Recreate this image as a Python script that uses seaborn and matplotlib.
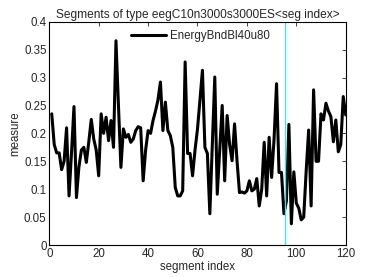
import numpy as np
import pandas as pd
import seaborn as sns
import matplotlib.pyplot as plt

# Values
seg_index = list(range(1, 121))
measure = [
    0.235, 0.18, 0.165, 0.165, 0.135, 0.15, 0.21, 0.088, 0.165, 0.248,
    0.085, 0.14, 0.17, 0.175, 0.148, 0.185, 0.225, 0.19, 0.17, 0.124,
    0.235, 0.2, 0.229, 0.187, 0.223, 0.175, 0.366, 0.25, 0.139, 0.208,
    0.193, 0.198, 0.184, 0.19, 0.205, 0.212, 0.21, 0.115, 0.17, 0.205,
    0.2, 0.223, 0.24, 0.26, 0.292, 0.205, 0.256, 0.205, 0.196, 0.175,
    0.103, 0.088, 0.088, 0.097, 0.328, 0.164, 0.164, 0.124, 0.17, 0.208,
    0.26, 0.313, 0.175, 0.164, 0.056, 0.18, 0.301, 0.091, 0.17, 0.25,
    0.115, 0.232, 0.18, 0.151, 0.217, 0.151, 0.094, 0.095, 0.093, 0.097,
    0.115, 0.097, 0.1, 0.119, 0.07, 0.1, 0.184, 0.088, 0.193, 0.121,
    0.19, 0.289, 0.13, 0.13, 0.056, 0.079, 0.216, 0.038, 0.131, 0.075,
    0.066, 0.045, 0.05, 0.133, 0.206, 0.07, 0.278, 0.15, 0.15, 0.235,
    0.224, 0.254, 0.24, 0.23, 0.185, 0.224, 0.167, 0.18, 0.266, 0.233,
]
series_name = "EnergyBndBl40u80"
marker_index = 95.5
x_ticks = [0, 20, 40, 60, 80, 100, 120]
y_ticks = [0, 0.05, 0.1, 0.15, 0.2, 0.25, 0.3, 0.35, 0.4]
y_tick_labels = ["0", "0.05", "0.1", "0.15", "0.2", "0.25", "0.3", "0.35", "0.4"]

df = pd.DataFrame({"segment index": seg_index, "measure": measure})

sns.set_style("white")
plt.rcParams["font.family"] = ["Liberation Sans", "DejaVu Sans"]
plt.rcParams["font.size"] = 8

fig = plt.figure(figsize=(3.82, 2.77), dpi=100)
ax = fig.add_axes([0.129, 0.1155, 0.776, 0.806])

sns.lineplot(data=df, x="segment index", y="measure", color="black",
             linewidth=2.2, label=series_name, ax=ax)
ax.axvline(marker_index, color="cyan", linewidth=1.0)

ax.set_xlim(0, 120)
ax.set_ylim(0, 0.4)
ax.set_xticks(x_ticks)
ax.set_yticks(y_ticks)
ax.set_yticklabels(y_tick_labels)
ax.tick_params(direction="in", top=True, right=True, length=3, width=0.6,
               labelsize=8.3, pad=2)
for side in ax.spines.values():
    side.set_color("black")
    side.set_linewidth(0.8)

ax.set_title("Segments of type eegC10n3000s3000ES<seg index>", fontsize=8.6, pad=3)
ax.set_xlabel("segment index", fontsize=8.3, labelpad=1)
ax.set_ylabel("measure", fontsize=8.3, labelpad=2)
ax.legend(loc="upper center", frameon=False, fontsize=8.3, handlelength=3.0,
          handletextpad=0.4, borderaxespad=0.3, bbox_to_anchor=(0.51, 1.0))

fig.savefig("out.png", dpi=100)
